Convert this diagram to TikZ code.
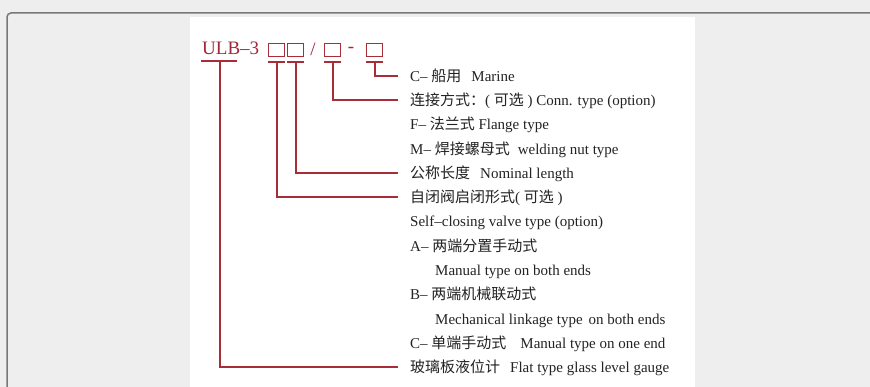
\documentclass[tikz,border=0pt]{standalone}
\usepackage{fontspec}
\setmainfont{Liberation Serif}
\newfontfamily\cjk{Noto Sans CJK SC}
\definecolor{ln}{RGB}{168,45,55}
\definecolor{hd}{RGB}{160,40,58}
\definecolor{tx}{RGB}{35,35,35}
\definecolor{bgc}{RGB}{238,238,238}
\definecolor{bdc}{RGB}{120,120,120}
\begin{document}
\begin{tikzpicture}[x=1pt,y=-1pt,
  conn/.style={draw=ln,line width=2pt},
  lbl/.style={anchor=west,inner sep=0pt,text height=12pt,text depth=1pt,font=\fontsize{15}{16}\selectfont,text=tx},
  ph/.style={draw=ln,line width=1pt,minimum width=16pt,minimum height=13pt,inner sep=0pt,anchor=north west},
  hdtext/.style={inner sep=0pt,text=hd,font=\fontsize{19}{20}\selectfont}]
\useasboundingbox (0,0) rectangle (870,387);
\clip (0,0) rectangle (870,387);
\fill[bgc] (0,0) rectangle (870,387);
\draw[bdc,line width=1.5pt,rounded corners=4pt,fill=bgc] (7,400) -- (7,13) -- (890,13);
\fill[white] (190,17) rectangle (695,395);

% header
\node[hdtext,anchor=base west] (u0) at (202,55) {ULB–3};
\node[ph] (b1) at (268,43) {};
\node[ph] (b2) at (287,43) {};
\node[hdtext] (sl) at (313,49) {/};
\node[ph] (b3) at (324,43) {};
\node[hdtext] (hy) at (351,50) {-};
\node[ph] (b4) at (366,43) {};

% labels
\node[lbl] (t1) at (410,76) {C– {\cjk 船用}\hspace{10pt}Marine};
\node[lbl] (t2) at (410,100.25) {{\cjk 连接方式：}( {\cjk 可选} ) Conn. type (option)};
\node[lbl] (t3) at (410,124.5) {F– {\cjk 法兰式} Flange type};
\node[lbl] (t4) at (410,148.75) {M– {\cjk 焊接螺母式}\hspace{8pt}welding nut type};
\node[lbl] (t5) at (410,173) {{\cjk 公称长度}\hspace{10pt}Nominal length};
\node[lbl] (t6) at (410,197.25) {{\cjk 自闭阀启闭形式}( {\cjk 可选} )};
\node[lbl] (t7) at (410,221.5) {Self–closing valve type (option)};
\node[lbl] (t8) at (410,245.75) {A– {\cjk 两端分置手动式}};
\node[lbl] (t9) at (435,270) {Manual type on both ends};
\node[lbl] (t10) at (410,294.25) {B– {\cjk 两端机械联动式}};
\node[lbl] (t11) at (435,318.5) {Mechanical linkage type\hspace{6pt}on both ends};
\node[lbl] (t12) at (410,342.75) {C– {\cjk 单端手动式}\hspace{14pt}Manual type on one end};
\node[lbl] (t13) at (410,367) {{\cjk 玻璃板液位计}\hspace{10pt}Flat type glass level gauge};

% underlines
\coordinate (ua) at (201,61);
\coordinate (ub) at (237,61);
\coordinate (um) at (220,61);
\draw[conn] (ua) -- (ub);
\foreach \b in {b1,b2,b3,b4}{
  \draw[conn] ([yshift=-5pt]\b.south west) -- ([yshift=-5pt]\b.south east);
}
% connectors
\draw[conn] (um) |- ([xshift=-12pt]t13.west);
\draw[conn] ([yshift=-5pt]b1.south) |- ([xshift=-12pt]t6.west);
\draw[conn] ([yshift=-5pt]b2.south) |- ([xshift=-12pt]t5.west);
\draw[conn] ([yshift=-5pt]b3.south) |- ([xshift=-12pt]t2.west);
\draw[conn] ([yshift=-5pt]b4.south) |- ([xshift=-12pt]t1.west);
\end{tikzpicture}
\end{document}
